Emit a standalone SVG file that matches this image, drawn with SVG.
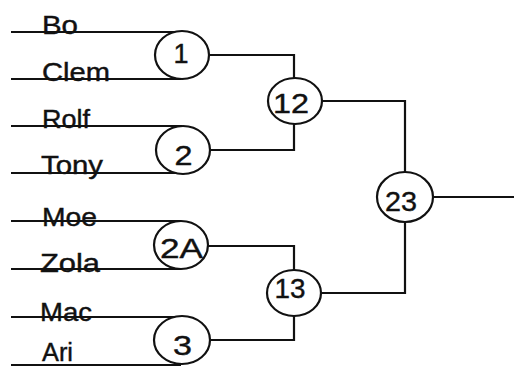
<svg xmlns="http://www.w3.org/2000/svg" width="514" height="367" viewBox="0 0 514 367">
<style>
.ln{fill:none;stroke:#111;stroke-width:2.2;stroke-linejoin:miter}
.node ellipse{fill:#fff;stroke:#111;stroke-width:2.2}
.lbl{font-family:"Liberation Sans",Arial,sans-serif;font-size:25px;fill:#111;stroke:#111;stroke-width:0.4}
.num{font-family:"Liberation Sans",Arial,sans-serif;font-size:27px;fill:#111;stroke:#111;stroke-width:0.4;text-anchor:middle}
</style>
<rect width="514" height="367" fill="#fff"/>
<g id="connectors" class="ln">
<path d="M11 32H181M11 79H181"/>
<path d="M11 126H182M11 173H182"/>
<path d="M11 221H181M11 269H181"/>
<path d="M11 317H181M11 365H181"/>
<path d="M209 55H294V80"/>
<path d="M210 150H294V124"/>
<path d="M208 246H294V270"/>
<path d="M209 340H294V316"/>
<path d="M322 101H405V172"/>
<path d="M321 293H405V222"/>
<path d="M433 197H514"/>
</g>
<g id="n-bo"><text class="lbl" x="42" y="34" textLength="36" lengthAdjust="spacingAndGlyphs">Bo</text></g>
<g id="n-clem"><text class="lbl" x="42" y="81" textLength="68" lengthAdjust="spacingAndGlyphs">Clem</text></g>
<g id="n-rolf"><text class="lbl" x="42" y="128" textLength="48" lengthAdjust="spacingAndGlyphs">Rolf</text></g>
<g id="n-tony"><text class="lbl" x="41" y="174" textLength="62" lengthAdjust="spacingAndGlyphs">Tony</text></g>
<g id="n-moe"><text class="lbl" x="42" y="226" textLength="55" lengthAdjust="spacingAndGlyphs">Moe</text></g>
<g id="n-zola"><text class="lbl" x="40" y="272" textLength="60" lengthAdjust="spacingAndGlyphs">Zola</text></g>
<g id="n-mac"><text class="lbl" x="40" y="321" textLength="52" lengthAdjust="spacingAndGlyphs">Mac</text></g>
<g id="n-ari"><text class="lbl" x="42" y="361" textLength="31" lengthAdjust="spacingAndGlyphs">Ari</text></g>
<g id="m1" class="node"><ellipse cx="182" cy="55" rx="27" ry="24"/><text class="num" x="181" y="63">1</text></g>
<g id="m2" class="node"><ellipse cx="183" cy="150" rx="27" ry="24"/><text class="num" x="183.5" y="165" textLength="18" lengthAdjust="spacingAndGlyphs">2</text></g>
<g id="m2a" class="node"><ellipse cx="181" cy="245" rx="27" ry="24"/><text class="num" x="181.5" y="258" textLength="43" lengthAdjust="spacingAndGlyphs">2A</text></g>
<g id="m3" class="node"><ellipse cx="182" cy="340" rx="28" ry="24"/><text class="num" x="182.5" y="355" textLength="19" lengthAdjust="spacingAndGlyphs">3</text></g>
<g id="m12" class="node"><ellipse cx="295" cy="101" rx="27" ry="23"/><text class="num" x="291" y="113" textLength="36" lengthAdjust="spacingAndGlyphs">12</text></g>
<g id="m13" class="node"><ellipse cx="294" cy="293" rx="27" ry="23"/><text class="num" x="290" y="298" textLength="31" lengthAdjust="spacingAndGlyphs">13</text></g>
<g id="m23" class="node"><ellipse cx="405" cy="197" rx="28" ry="25"/><text class="num" x="401" y="211" textLength="32" lengthAdjust="spacingAndGlyphs">23</text></g>
</svg>
